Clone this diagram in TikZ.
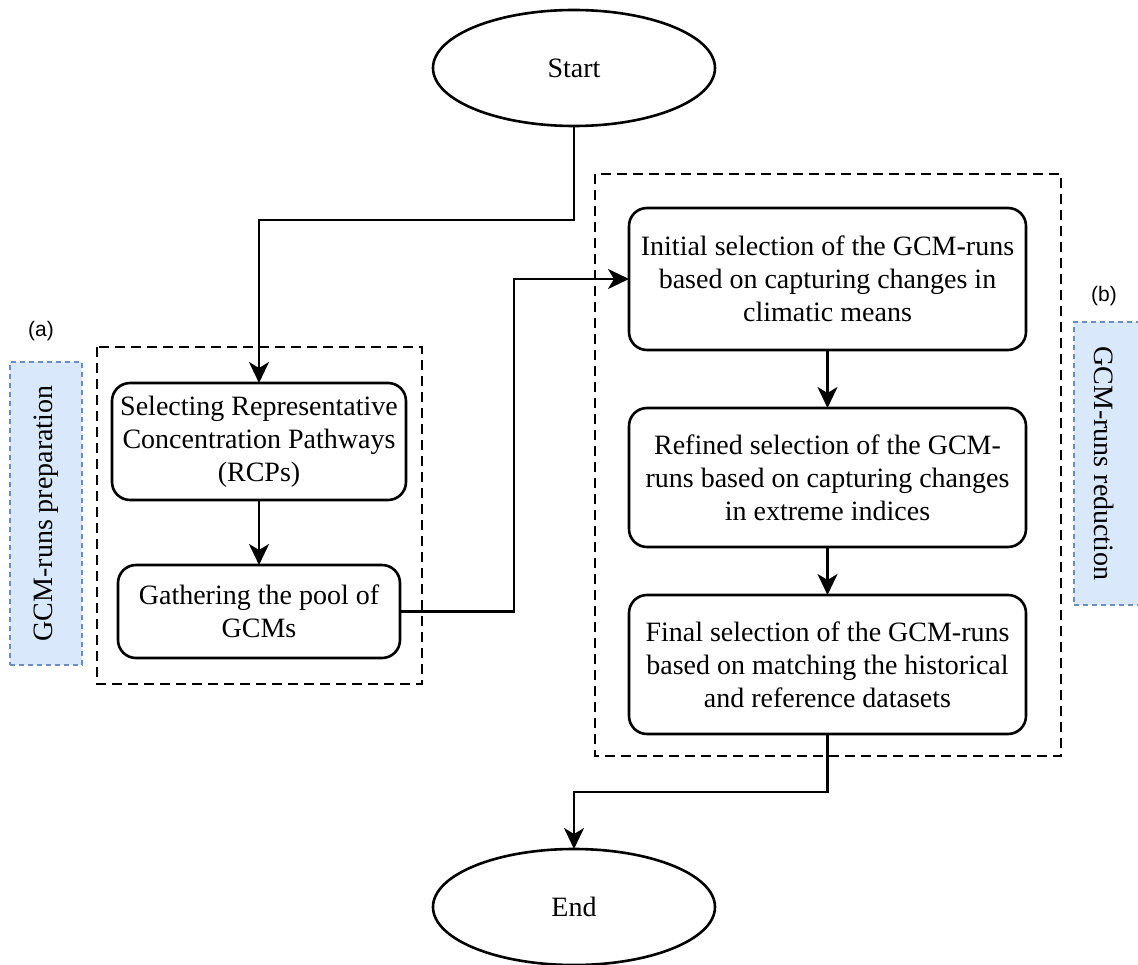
\documentclass[tikz,border=0pt]{standalone}
\usepackage{fontspec}
\setmainfont{Liberation Serif}
\newfontfamily\labsans{Liberation Sans}
\usetikzlibrary{shapes.geometric,arrows.meta}
\definecolor{sidefill}{HTML}{DAE8FC}
\definecolor{sideline}{HTML}{6C8EBF}
\tikzset{
  proc/.style={draw, line width=2.6pt, rounded corners=18pt, align=center, inner sep=0pt, outer sep=0pt,
    font=\fontsize{28}{33}\selectfont},
  term/.style={draw, ellipse, line width=2.6pt, minimum width=282pt, minimum height=116pt, inner sep=0pt, outer sep=0pt,
    font=\fontsize{28}{33}\selectfont},
  grp/.style={draw, line width=2.6pt, dash pattern=on 10pt off 6pt},
  side/.style={draw=sideline, fill=sidefill, line width=1.6pt, dash pattern=on 5pt off 4pt, inner sep=0pt},
  sidetxt/.style={font=\fontsize{28}{33}\selectfont, inner sep=0pt},
  tag/.style={font=\labsans\fontsize{21}{25}\selectfont, inner sep=0pt},
  arr/.style={line width=2.6pt, -{Stealth[length=21pt,width=20pt,inset=6pt]}}
}
\begin{document}
\begin{tikzpicture}[x=1pt,y=-1pt]
\useasboundingbox (0,0) rectangle (1138,965);
\clip (0,0) rectangle (1138,965);
% group frames
\draw[grp] (97,347) rectangle (422,684);
\draw[grp] (595,174) rectangle (1061,756);
% side labels
\node[side, minimum width=72pt, minimum height=303pt] (sidea) at (46,513.5) {};
\node[sidetxt, rotate=90] (sidetxta) at (sidea.center) {GCM-runs preparation};
\node[side, minimum width=72pt, minimum height=283pt] (sideb) at (1110,463.5) {};
\node[sidetxt, rotate=-90] (sidetxtb) at (1104,463.5) {GCM-runs reduction};
\node[tag] (taga) at (41,331) {(a)};
\node[tag] (tagb) at (1104,296) {(b)};
% terminals
\node[term] (start) at (574,68) {Start};
\node[term] (end) at (574,907) {End};
% left process boxes
\node[proc, minimum width=294pt, minimum height=117pt] (rcp) at (259,441.5)
  {Selecting Representative\\Concentration Pathways\\(RCPs)};
\node[proc, minimum width=282pt, minimum height=93pt] (gcm) at (259,611.5)
  {Gathering the pool of\\GCMs};
% right process boxes
\node[proc, minimum width=397pt, minimum height=142pt] (init) at (827.5,279)
  {Initial selection of the GCM-runs\\based on capturing changes in\\climatic means};
\node[proc, minimum width=397pt, minimum height=139pt] (refi) at (827.5,477.5)
  {Refined selection of the GCM-\\runs based on capturing changes\\in extreme indices};
\node[proc, minimum width=397pt, minimum height=139pt] (fina) at (827.5,664.5)
  {Final selection of the GCM-runs\\based on matching the historical\\and reference datasets};
% junctions
\coordinate (j1) at (574,220);
\coordinate (j2) at (514,612);
\coordinate (j3) at (828,792);
% connectors
\draw[arr] (start.south) -- (start.south |- j1) -| (rcp.north);
\draw[arr] (rcp.south) -- (gcm.north);
\draw[arr] (gcm.east) -- (gcm.east -| j2) |- (init.west);
\draw[arr] (init.south) -- (refi.north);
\draw[arr] (refi.south) -- (fina.north);
\draw[arr] (fina.south) -- (fina.south |- j3) -| (end.north);
\end{tikzpicture}
\end{document}
